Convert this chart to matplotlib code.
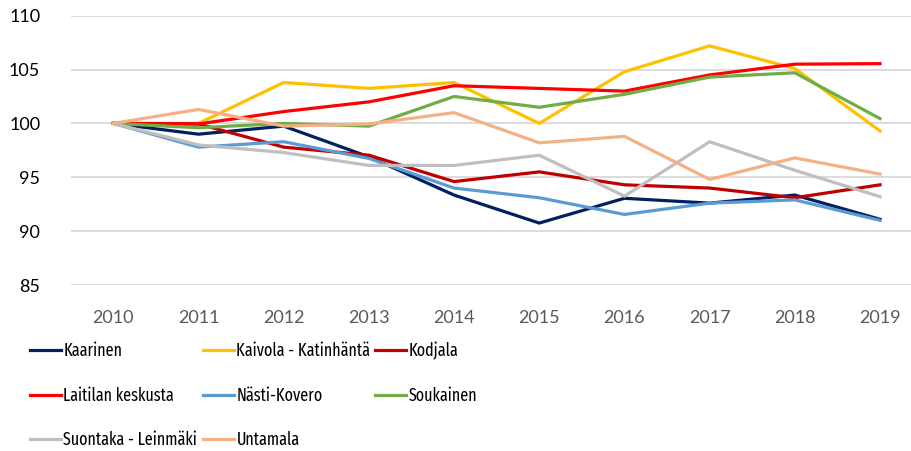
import matplotlib
matplotlib.use("Agg")
import matplotlib.pyplot as plt

years = ["2010", "2011", "2012", "2013", "2014", "2015", "2016", "2017", "2018", "2019"]

kaarinen = [100, 99.0, 99.75, 96.9, 93.35, 90.75, 93.05, 92.6, 93.35, 91.1]
kaivola = [100, 100.0, 103.8, 103.25, 103.8, 100.0, 104.8, 107.2, 105.1, 99.3]
kodjala = [100, 99.95, 97.8, 97.05, 94.6, 95.5, 94.3, 94.0, 93.1, 94.3]
laitila = [100, 99.95, 101.1, 102.0, 103.5, 103.25, 103.0, 104.5, 105.5, 105.55]
nasti = [100, 97.8, 98.3, 96.75, 94.0, 93.1, 91.55, 92.6, 92.9, 91.0]
soukainen = [100, 99.6, 100.0, 99.75, 102.5, 101.5, 102.7, 104.3, 104.7, 100.45]
suontaka = [100, 98.0, 97.3, 96.1, 96.1, 97.05, 93.25, 98.3, 95.65, 93.2]
untamala = [100, 101.3, 99.75, 99.95, 101.0, 98.2, 98.8, 94.8, 96.8, 95.3]

series_names = ["Kaarinen", "Kaivola - Katinhäntä", "Kodjala", "Laitilan keskusta",
                "Nästi-Kovero", "Soukainen", "Suontaka - Leinmäki", "Untamala"]
series_values = [kaarinen, kaivola, kodjala, laitila, nasti, soukainen, suontaka, untamala]
colors = ["#002060", "#FFC000", "#C00000", "#FF0000", "#5B9BD5", "#70AD47", "#BFBFBF", "#F4B183"]

yticks = [85, 90, 95, 100, 105, 110]

plt.rcParams['font.family'] = ['Lato', 'DejaVu Sans']

fig = plt.figure(figsize=(9.12, 4.51), dpi=100)
ax = fig.add_axes([70.7 / 912, 1 - 285 / 451, (922.6 - 70.7) / 912, (285 - 15.7) / 451])

x = list(range(len(years)))
handles = []
for name, vals, c in zip(series_names, series_values, colors):
    h, = ax.plot(x, vals, color=c, lw=2.3, label=name, solid_joinstyle='miter', zorder=3)
    handles.append(h)

ax.set_xlim(-0.5, len(years) - 0.5)
ax.set_ylim(85, 110)
ax.set_yticks(yticks)
ax.set_yticklabels([str(v) for v in yticks], fontsize=13, color="#000000")
ax.set_xticks(x)
ax.set_xticklabels(years, fontsize=13, color="#595959")
ax.tick_params(axis='both', length=0)
ax.tick_params(axis='y', pad=22)
ax.tick_params(axis='x', pad=18)
ax.grid(axis='y', color="#D9D9D9", lw=1.3, zorder=0)
for s in ax.spines.values():
    s.set_visible(False)
ax.set_axisbelow(True)

legend_font = {'family': ['Fira Sans Extra Condensed', 'Roboto Condensed', 'DejaVu Sans'], 'size': 12.6}
cols = [[0, 3, 6], [1, 4, 7], [2, 5]]
xstarts = [30, 203, 375]
for idxs, xs in zip(cols, xstarts):
    leg = fig.legend([handles[i] for i in idxs], [series_names[i] for i in idxs],
                     loc='upper left', bbox_to_anchor=(xs / 912, 1 - 342 / 451),
                     frameon=False, prop=legend_font, handlelength=1.77, handletextpad=0.14,
                     labelspacing=1.53, borderaxespad=0, borderpad=0)
    for t in leg.get_texts():
        t.set_color("#000000")

fig.savefig("out.png", dpi=100)
